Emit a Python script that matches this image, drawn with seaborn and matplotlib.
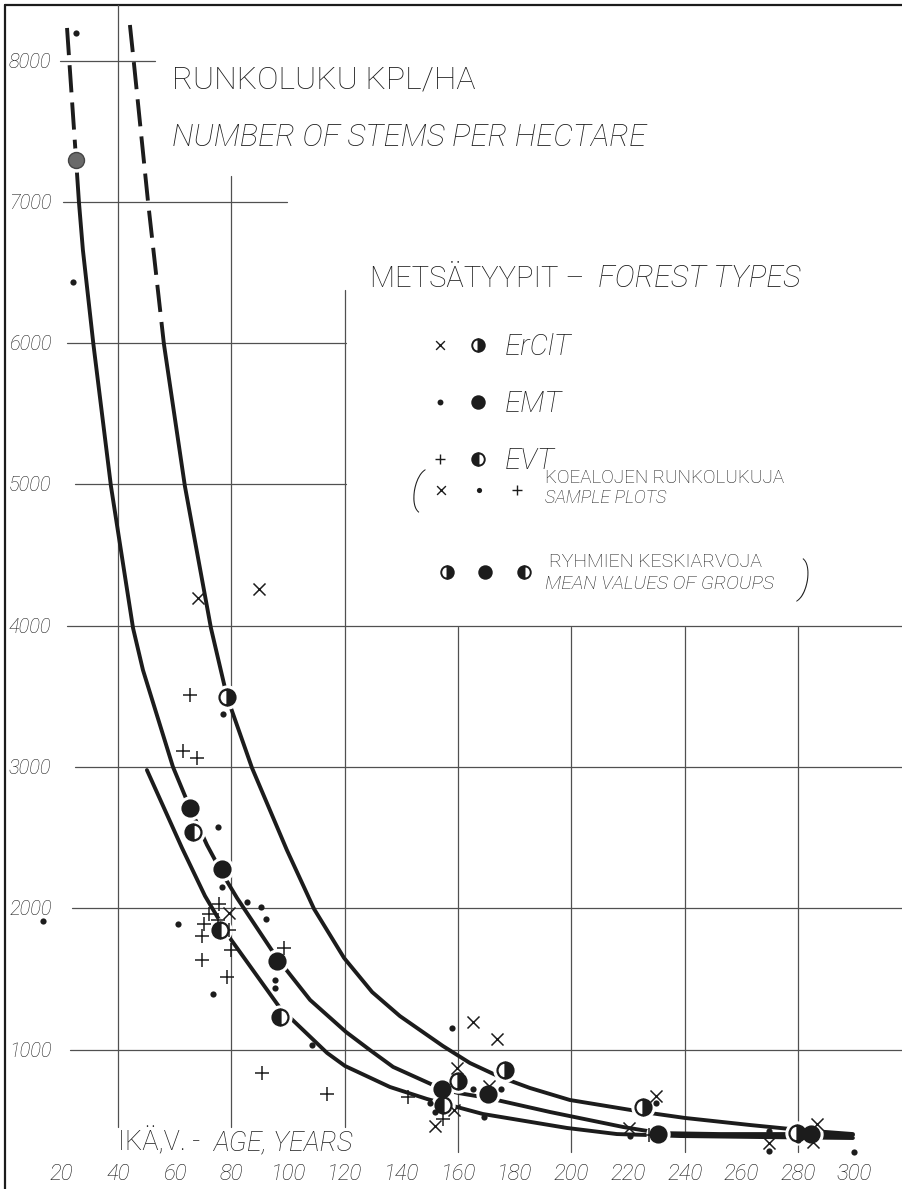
import matplotlib
matplotlib.use("Agg")
import matplotlib.pyplot as plt
import seaborn as sns

sns.set_theme(style="white")
plt.rcParams['font.family'] = ['Roboto', 'DejaVu Sans']

# ---------------- data ----------------
x_ticks = [20, 40, 60, 80, 100, 120, 140, 160, 180, 200, 220, 240, 260, 280, 300]
y_ticks = [1000, 2000, 3000, 4000, 5000, 6000, 7000, 8000]

# hand-drawn curves (age, stems/ha); points up to index *_dash are dashed
curve_a_age = [44.2, 45.5, 50.6, 56.2, 63.6, 72.8, 78.5, 87.3, 99.6, 109.2, 119.8, 129.7,
               139.5, 154.7, 164.2, 174.8, 185.4, 199.5, 225.3, 240.1, 263.1, 277.2, 289.6, 299.4]
curve_a_val = [8252, 8004, 6999, 5994, 4989, 3984, 3496, 2994, 2413, 1996, 1649, 1408,
               1238, 1026, 906, 807, 729, 644, 559, 517, 467, 439, 418, 403]
curve_a_dash = 3

curve_b_age = [22.0, 25.2, 26.2, 27.6, 31.3, 37.5, 45.3, 48.8, 59.4, 65.4, 71.4, 76.7, 82.0,
               96.1, 107.8, 120.5, 128.9, 137.1, 154.3, 160.0, 170.6, 192.5, 218.3, 231.3,
               252.5, 277.2, 299.4]
curve_b_val = [8231, 7297, 7000, 6660, 5994, 4989, 3984, 3687, 3001, 2711, 2449, 2251, 2074,
               1649, 1352, 1125, 998, 878, 722, 694, 658, 559, 453, 410,
               403, 403, 396]
curve_b_dash = 1

curve_c_age = [50.2, 62.6, 70.7, 79.5, 97.2, 113.8, 120.1, 136.0, 149.1, 159.7, 168.8,
               198.5, 216.1, 238.4, 266.6, 299.4]
curve_c_val = [2979, 2427, 2088, 1790, 1295, 977, 885, 736, 651, 594, 545,
               446, 403, 389, 382, 375]

# sample plots
ercl_age = [68.2, 89.8, 79.2, 165.3, 173.7, 159.7, 158.6, 171.0, 229.9, 220.4, 269.9, 286.6, 285.4, 151.9]
ercl_val = [4197, 4260, 1967, 1198, 1075, 870, 573, 743, 672, 443, 337, 474, 350, 460]

emt_age = [25.2, 24.1, 77.0, 75.2, 76.6, 85.4, 90.5, 92.2, 61.2, 73.5, 95.4, 95.4, 108.4,
           157.8, 165.2, 175.2, 169.3, 150.0, 152.0, 229.9, 220.7, 269.9, 269.9, 280.0, 299.9, 13.4]
emt_val = [8195, 6433, 3376, 2576, 2151, 2047, 2010, 1925, 1890, 1394, 1493, 1439, 1033,
           1153, 720, 720, 526, 623, 560, 622, 389, 427, 285, 360, 274, 1913]

evt_age = [65.4, 63.0, 67.9, 75.7, 72.1, 70.5, 75.3, 69.5, 79.0, 79.8, 69.5, 78.4, 98.6,
           90.7, 113.8, 142.5, 154.8, 227.5]
evt_val = [3510, 3114, 3064, 2031, 1960, 1890, 1918, 1805, 1850, 1706, 1635, 1517, 1720,
           836, 683, 663, 507, 396]

# group means
ercl_mean_age = [78.5, 160.0, 176.6, 225.2, 279.6]
ercl_mean_val = [3497, 781, 856, 592, 408]
emt_mean_age = [65.4, 76.6, 96.0, 154.2, 170.7, 230.7, 284.6]
emt_mean_val = [2711, 2279, 1630, 720, 684, 401, 401]
evt_mean_age = [66.5, 76.0, 97.2, 154.8]
evt_mean_val = [2540, 1847, 1234, 609]
grey_mean_age = [25.2]
grey_mean_val = [7297]

# ---------------- figure ----------------
W, H = 902, 1189
fig = plt.figure(figsize=(W / 100, H / 100), dpi=100)
fig.patch.set_facecolor("white")
ax = fig.add_axes([0, 0, 1, 1])


def AX(xp):
    return (xp - 4.7) / 2.833


def AY(yp):
    return (1191.0 - yp) / 0.1413


ax.set_xlim(AX(0), AX(W))
ax.set_ylim(AY(H), AY(0))
ax.axis("off")

INK = "#1c1c1c"
GRID = "#505050"

# frame (left and top)
ax.plot([AX(5), AX(5)], [AY(H), AY(5)], color=INK, lw=1.6, zorder=1)
ax.plot([AX(5), AX(W)], [AY(5), AY(5)], color=INK, lw=1.6, zorder=1)

# horizontal grid lines (partial extents as drawn)
h_extent = {1000: (70, W), 2000: (72, W), 3000: (75, W), 4000: (67, W),
            5000: (75, 346), 6000: (67, 346), 7000: (63, 287), 8000: (60, 155)}
for v in y_ticks:
    x0, x1 = h_extent[v]
    ax.plot([AX(x0), AX(x1)], [v, v], color=GRID, lw=0.9, zorder=1)

# vertical grid lines
v_extent = {40: (5, 1127), 80: (176, 1127), 120: (290, 1127)}
for a in [40, 80, 120, 160, 200, 240, 280]:
    y0, y1 = v_extent.get(a, (627, 1152))
    ax.plot([a, a], [AY(y0), AY(y1)], color=GRID, lw=0.9, zorder=1)

# curves
LW = 2.8
for ages, vals, nd in [(curve_a_age, curve_a_val, curve_a_dash),
                       (curve_b_age, curve_b_val, curve_b_dash)]:
    ax.plot(ages[:nd + 1], vals[:nd + 1], color=INK, lw=LW,
            linestyle=(0, (7.0, 2.6)), solid_capstyle="butt", zorder=2)
    sns.lineplot(x=ages[nd:], y=vals[nd:], sort=False, estimator=None,
                 color=INK, lw=LW, ax=ax, zorder=2)
sns.lineplot(x=curve_c_age, y=curve_c_val, sort=False, estimator=None,
             color=INK, lw=LW, ax=ax, zorder=2)

# white halos around group means (line breaks)
MS = 11.5
all_mean_age = ercl_mean_age + emt_mean_age + evt_mean_age + grey_mean_age
all_mean_val = ercl_mean_val + emt_mean_val + evt_mean_val + grey_mean_val
ax.plot(all_mean_age, all_mean_val, "o", ms=MS + 5, color="white", mec="white", zorder=3)

# sample plots
sns.scatterplot(x=ercl_age, y=ercl_val, marker="x", s=75, color=INK, linewidth=1.1, ax=ax, zorder=4)
sns.scatterplot(x=emt_age, y=emt_val, marker="o", s=20, color=INK, edgecolor=INK, linewidth=0, ax=ax, zorder=4)
sns.scatterplot(x=evt_age, y=evt_val, marker="+", s=100, color=INK, linewidth=1.1, ax=ax, zorder=4)


def mean_marker(xs, ys, fill, ms=MS, mew=1.6):
    if fill == "full":
        ax.plot(xs, ys, "o", ms=ms, color=INK, mec=INK, mew=mew, zorder=5)
    else:
        ax.plot(xs, ys, "o", ms=ms, fillstyle=fill, color=INK, mfc=INK,
                markerfacecoloralt="white", mec=INK, mew=mew, zorder=5)


mean_marker(ercl_mean_age, ercl_mean_val, "right")
mean_marker(emt_mean_age, emt_mean_val, "full")
mean_marker(evt_mean_age, evt_mean_val, "left")
ax.plot(grey_mean_age, grey_mean_val, "o", ms=MS, color="#6a6a6a", mec="#444444", mew=1.0, zorder=5)

# ---------------- texts ----------------
LT = "light"


def T(xp, yp, s, size, style="normal", ha="left", va="baseline", weight=LT):
    ax.text(AX(xp), AY(yp), s, fontsize=size, fontstyle=style, ha=ha, va=va,
            color=INK, fontweight=weight, zorder=6)


# tick labels
for v in y_ticks:
    yp = 1191.0 - v * 0.1413
    T(9, yp + 7, f"{v}", 14.5, style="italic")
for a in x_ticks:
    ax.text(a, AY(1180), f"{a}", fontsize=16, fontstyle="italic", ha="center",
            va="baseline", color=INK, fontweight=LT, zorder=6)

# axis label
T(118, 1150, "IKÄ,V. -", 19.5)
T(214, 1150, "AGE, YEARS", 19.5, style="italic")

# titles
T(172, 89, "RUNKOLUKU KPL/HA", 23)
T(172, 146, "NUMBER OF STEMS PER HECTARE", 22.5, style="italic")

# legend
T(370, 287, "METSÄTYYPIT –", 21)
T(598, 287, "FOREST TYPES", 22, style="italic")

leg_rows = [("ErClT", 345, "x", "right"), ("EMT", 402, "o", "full"), ("EVT", 459, "+", "left")]
for name, yp, mk, fill in leg_rows:
    if mk == "x":
        ax.scatter([AX(440)], [AY(yp)], marker="x", s=40, color=INK, linewidths=1.0, zorder=5)
    elif mk == "o":
        ax.scatter([AX(440)], [AY(yp)], marker="o", s=18, color=INK, linewidths=0, zorder=5)
    else:
        ax.scatter([AX(440)], [AY(yp)], marker="+", s=60, color=INK, linewidths=1.0, zorder=5)
    mean_marker([AX(478)], [AY(yp)], fill, ms=9, mew=1.4)
    T(505, yp + 10, name, 21, style="italic")

# sample / mean explanation
T(411, 503, "(", 30, style="italic")
ax.scatter([AX(441)], [AY(490)], marker="x", s=40, color=INK, linewidths=1.0, zorder=5)
ax.scatter([AX(479)], [AY(490)], marker="o", s=14, color=INK, linewidths=0, zorder=5)
ax.scatter([AX(517)], [AY(490)], marker="+", s=60, color=INK, linewidths=1.0, zorder=5)
T(545, 483, "KOEALOJEN RUNKOLUKUJA", 13.5)
T(545, 503, "SAMPLE PLOTS", 13, style="italic")

mean_marker([AX(447)], [AY(572)], "right", ms=9, mew=1.4)
mean_marker([AX(485)], [AY(572)], "full", ms=9, mew=1.4)
mean_marker([AX(524)], [AY(572)], "left", ms=9, mew=1.4)
T(549, 567, "RYHMIEN KESKIARVOJA", 14)
T(545, 589, "MEAN VALUES OF GROUPS", 14, style="italic")
T(799, 592, ")", 30, style="italic")

fig.savefig("out.png", dpi=100, facecolor="white")
